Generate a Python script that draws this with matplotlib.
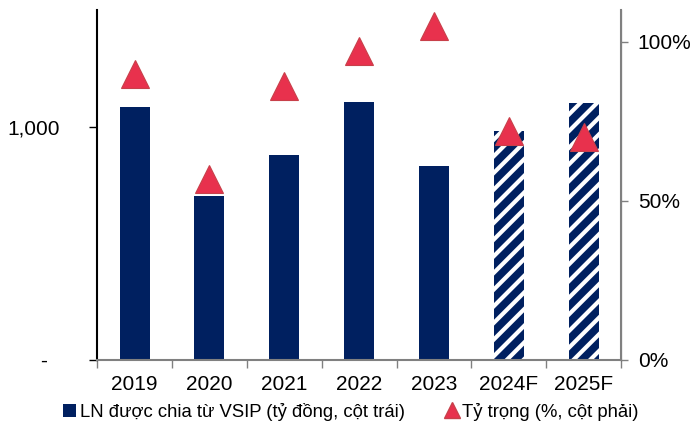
"""Bar + marker chart: LN duoc chia tu VSIP and its share (%)."""
import matplotlib
matplotlib.use('Agg')
import matplotlib.pyplot as plt
from matplotlib.lines import Line2D
from matplotlib.patches import Patch

plt.rcParams['font.family'] = ['Liberation Sans', 'DejaVu Sans']
plt.rcParams['hatch.linewidth'] = 3.0

# data
years = ['2019', '2020', '2021', '2022', '2023', '2024F', '2025F']
profit = [1085, 701, 876, 1104, 833, 983, 1103]   # ty dong, left axis
share = [90, 57, 86, 97, 105, 72, 70]              # %, right axis
forecast = [False, False, False, False, False, True, True]

NAVY = '#002060'
RED = '#E8314D'
EDGE_RED = '#C8404A'

fig = plt.figure(figsize=(6.94, 4.29), dpi=100)
ax = fig.add_axes([0.140, 0.161, 0.755, 0.816])
ax2 = ax.twinx()

x = list(range(len(years)))
for xi, val, fc in zip(x, profit, forecast):
    if fc:
        ax.bar(xi, val, width=0.4, color=NAVY, edgecolor='white',
               hatch='//', linewidth=0, zorder=2)
    else:
        ax.bar(xi, val, width=0.4, color=NAVY, linewidth=0, zorder=2)

ax2.plot(x, share, linestyle='none', marker='^', markersize=20,
         markerfacecolor=RED, markeredgecolor=EDGE_RED, markeredgewidth=0.8,
         zorder=3)

# left axis
ax.set_xlim(-0.5, len(years) - 0.5)
ax.set_ylim(0, 1500)
ax.set_yticks([0, 1000])
ax.set_yticklabels(['-  ', '1,000'])
ax.tick_params(axis='y', direction='out', length=6, width=1, pad=21,
               labelsize=15, colors='black')

# x axis: ticks between categories
ax.set_xticks([i - 0.5 for i in range(len(years) + 1)], minor=False)
ax.set_xticklabels([])
ax.set_xticks(x, minor=True)
ax.set_xticklabels(years, minor=True, fontsize=15)
ax.tick_params(axis='x', which='major', direction='out', length=6,
               width=1, color='#808080')
ax.tick_params(axis='x', which='minor', length=0, pad=11)

# right axis
ax2.set_ylim(0, 110)
ax2.set_yticks([0, 50, 100])
ax2.set_yticklabels(['0%', '50%', '100%'])
ax2.tick_params(axis='y', direction='out', length=5, width=1, pad=7,
                labelsize=15, color='#808080')

for a in (ax, ax2):
    a.spines['top'].set_visible(False)
ax.spines['left'].set_color('black')
ax.spines['left'].set_linewidth(1.5)
ax.spines['bottom'].set_color('#808080')
ax.spines['bottom'].set_linewidth(1.5)
ax2.spines['right'].set_color('#808080')
ax2.spines['right'].set_linewidth(1.5)
ax2.spines['left'].set_visible(False)
ax2.spines['bottom'].set_visible(False)

# legend below
handles = [
    Patch(facecolor=NAVY, edgecolor='none'),
    Line2D([], [], linestyle='none', marker='^', markersize=12,
           markerfacecolor=RED, markeredgecolor=EDGE_RED),
]
labels = ['LN được chia từ VSIP (tỷ đồng, cột trái)', 'Tỷ trọng (%, cột phải)']
fig.legend(handles, labels, loc='center', bbox_to_anchor=(0.506, 0.04),
           ncol=2, frameon=False, fontsize=13.3, handlelength=0.7,
           handletextpad=0.2, columnspacing=2.2)

fig.savefig('out.png', dpi=100)
